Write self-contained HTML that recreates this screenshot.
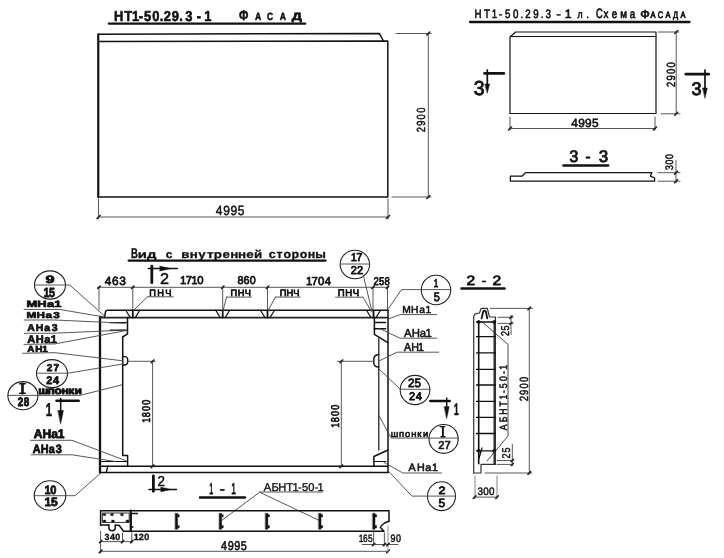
<!DOCTYPE html>
<html><head><meta charset="utf-8">
<style>
html,body{margin:0;padding:0;background:#fff;}
svg{display:block;filter:grayscale(1);}
text{font-family:"Liberation Sans", sans-serif;text-rendering:geometricPrecision;}
</style></head>
<body>
<svg width="724" height="558" viewBox="0 0 724 558">
<rect width="724" height="558" fill="#fff"/>
<g stroke-linecap="round" stroke-linejoin="round">
<g font-size="14.35" font-weight="bold" fill="#111" stroke="#111" stroke-width="0.6"><text transform="translate(114.06,21.0) scale(0.900,1)">Н</text><text transform="translate(124.17,21.0) scale(0.900,1)">Т</text><text transform="translate(131.89,21.0) scale(0.900,1)">1</text><text transform="translate(138.84,21.0) scale(0.900,1)">-</text><text transform="translate(144.04,21.0) scale(0.900,1)">5</text><text transform="translate(152.15,21.0) scale(0.900,1)">0</text><text transform="translate(159.68,21.0) scale(0.900,1)">.</text><text transform="translate(163.72,21.0) scale(0.900,1)">2</text><text transform="translate(171.70,21.0) scale(0.900,1)">9</text><text transform="translate(179.29,21.0) scale(0.900,1)">.</text></g>
<g font-size="14.35" font-weight="bold" fill="#111" stroke="#111" stroke-width="0.6"><text transform="translate(185.18,21.0) scale(0.900,1)">3</text><text transform="translate(196.80,21.0) scale(0.900,1)">-</text><text transform="translate(204.22,21.0) scale(0.900,1)">1</text></g>
<g font-size="14.06" font-weight="bold" fill="#111" stroke="#111" stroke-width="0.6"><text transform="translate(239.02,19.5) scale(0.779,1)">Ф</text></g>
<g font-size="10.43" font-weight="bold" fill="#111" stroke="#111" stroke-width="0.6"><text transform="translate(255.08,19.5) scale(0.830,1)">А</text></g>
<g font-size="10.43" font-weight="bold" fill="#111" stroke="#111" stroke-width="0.6"><text transform="translate(267.06,19.5) scale(0.805,1)">С</text></g>
<g font-size="10.43" font-weight="bold" fill="#111" stroke="#111" stroke-width="0.6"><text transform="translate(279.78,19.5) scale(0.830,1)">А</text></g>
<g font-size="10.43" font-weight="bold" fill="#111" stroke="#111" stroke-width="0.6"><text transform="translate(291.86,19.5) scale(1.357,1)">Д</text></g>
<path d="M108.8,23.6 L305.3,23.6" stroke="#111" stroke-width="2.2" fill="none" />
<path d="M98.3,197 L98.3,34.2 L379.4,33.6 L383.5,41" stroke="#111" stroke-width="1.5" fill="none" />
<path d="M98.3,41.6 L387.8,41 L387.8,197 L98.3,197" stroke="#111" stroke-width="1.5" fill="none" />
<path d="M98.3,34.2 L98.3,197" stroke="#111" stroke-width="2.0" fill="none" />
<path d="M396,33.5 L431,33.5" stroke="#444" stroke-width="0.9" fill="none" />
<path d="M392,197 L431,197" stroke="#444" stroke-width="0.9" fill="none" />
<path d="M428.3,33.5 L428.3,197" stroke="#444" stroke-width="0.9" fill="none" />
<path d="M426.8,35.0 L429.8,32.0" stroke="#222" stroke-width="1.6" fill="none" />
<path d="M426.8,198.5 L429.8,195.5" stroke="#222" stroke-width="1.6" fill="none" />
<g transform="translate(425.25,131.8) rotate(-90)" font-size="11.74" font-weight="normal" fill="#111" stroke="#111" stroke-width="0.5"><text transform="translate(-0.47,0) scale(0.800,1)">2</text><text transform="translate(5.93,0) scale(0.800,1)">9</text><text transform="translate(12.42,0) scale(0.800,1)">0</text><text transform="translate(18.96,0) scale(0.800,1)">0</text></g>
<path d="M98.5,199 L98.5,219" stroke="#444" stroke-width="0.9" fill="none" />
<path d="M388,199 L388,219" stroke="#444" stroke-width="0.9" fill="none" />
<path d="M98.5,217 L388,217" stroke="#444" stroke-width="0.9" fill="none" />
<path d="M97.0,218.5 L100.0,215.5" stroke="#222" stroke-width="1.6" fill="none" />
<path d="M386.5,218.5 L389.5,215.5" stroke="#222" stroke-width="1.6" fill="none" />
<g font-size="13.33" font-weight="normal" fill="#111" stroke="#111" stroke-width="0.5"><text transform="translate(215.70,215) scale(0.900,1)">4</text><text transform="translate(223.17,215) scale(0.900,1)">9</text><text transform="translate(230.47,215) scale(0.900,1)">9</text><text transform="translate(237.82,215) scale(0.900,1)">5</text></g>
<g font-size="12.17" font-weight="normal" fill="#111" stroke="#111" stroke-width="0.65"><text transform="translate(474.52,18.0) scale(0.800,1)">Н</text><text transform="translate(483.94,18.0) scale(0.800,1)">Т</text><text transform="translate(491.75,18.0) scale(0.800,1)">1</text><text transform="translate(499.03,18.0) scale(0.800,1)">-</text><text transform="translate(504.89,18.0) scale(0.800,1)">5</text><text transform="translate(512.95,18.0) scale(0.800,1)">0</text><text transform="translate(520.52,18.0) scale(0.800,1)">.</text><text transform="translate(525.26,18.0) scale(0.800,1)">2</text><text transform="translate(533.17,18.0) scale(0.800,1)">9</text><text transform="translate(540.69,18.0) scale(0.800,1)">.</text><text transform="translate(545.53,18.0) scale(0.800,1)">3</text></g>
<g font-size="12.17" font-weight="normal" fill="#111" stroke="#111" stroke-width="0.3"><text transform="translate(555.90,18.0) scale(1.274,1)">-</text></g>
<g font-size="12.17" font-weight="normal" fill="#111" stroke="#111" stroke-width="0.65"><text transform="translate(564.78,18.0) scale(1.012,1)">1</text></g>
<g font-size="10.94" font-weight="normal" fill="#111" stroke="#111" stroke-width="0.6"><text transform="translate(577.46,18.0) scale(0.800,1)">л</text><text transform="translate(586.38,18.0) scale(0.800,1)">.</text></g>
<g font-size="13.48" font-weight="normal" fill="#111" stroke="#111" stroke-width="0.7"><text transform="translate(596.03,17.8) scale(0.695,1)">С</text></g>
<g font-size="12.26" font-weight="normal" fill="#111" stroke="#111" stroke-width="0.7"><text transform="translate(603.45,17.8) scale(0.800,1)">х</text><text transform="translate(611.81,17.8) scale(0.800,1)">е</text><text transform="translate(620.17,17.8) scale(0.800,1)">м</text><text transform="translate(629.85,17.8) scale(0.800,1)">а</text></g>
<g font-size="11.45" font-weight="normal" fill="#111" stroke="#111" stroke-width="0.7"><text transform="translate(640.25,17.8) scale(1.092,1)">Ф</text></g>
<g font-size="9.42" font-weight="normal" fill="#111" stroke="#111" stroke-width="0.7"><text transform="translate(650.46,17.8) scale(0.800,1)">А</text><text transform="translate(657.70,17.8) scale(0.800,1)">С</text><text transform="translate(665.38,17.8) scale(0.800,1)">А</text><text transform="translate(672.95,17.8) scale(0.800,1)">Д</text><text transform="translate(680.49,17.8) scale(0.800,1)">А</text></g>
<path d="M470,22 L689.5,22" stroke="#111" stroke-width="2.3" fill="none" />
<path d="M510,113.5 L510,36.5 L656,36.5" stroke="#111" stroke-width="1.2" fill="none" />
<path d="M510.5,36.5 L515.6,32 L656,32 L656,113.5 L510,113.5" stroke="#111" stroke-width="1.2" fill="none" />
<path d="M658.5,32 L679,32" stroke="#444" stroke-width="0.9" fill="none" />
<path d="M661,113.8 L680,113.8" stroke="#444" stroke-width="0.9" fill="none" />
<path d="M676.2,32 L676.2,113.8" stroke="#444" stroke-width="0.9" fill="none" />
<path d="M674.7,33.5 L677.7,30.5" stroke="#222" stroke-width="1.6" fill="none" />
<path d="M674.7,115.3 L677.7,112.3" stroke="#222" stroke-width="1.6" fill="none" />
<g transform="translate(674.90,86.4) rotate(-90)" font-size="11.88" font-weight="normal" fill="#111" stroke="#111" stroke-width="0.55"><text transform="translate(-0.48,0) scale(0.800,1)">2</text><text transform="translate(5.87,0) scale(0.800,1)">9</text><text transform="translate(12.31,0) scale(0.800,1)">0</text><text transform="translate(18.80,0) scale(0.800,1)">0</text></g>
<path d="M510,117 L510,130" stroke="#444" stroke-width="0.9" fill="none" />
<path d="M655,117 L655,130" stroke="#444" stroke-width="0.9" fill="none" />
<path d="M510,128.5 L655,128.5" stroke="#444" stroke-width="0.9" fill="none" />
<path d="M508.5,130.0 L511.5,127.0" stroke="#222" stroke-width="1.6" fill="none" />
<path d="M653.5,130.0 L656.5,127.0" stroke="#222" stroke-width="1.6" fill="none" />
<g font-size="11.88" font-weight="normal" fill="#111" stroke="#111" stroke-width="0.6"><text transform="translate(571.30,126.5) scale(1.000,1)">4</text><text transform="translate(578.26,126.5) scale(1.000,1)">9</text><text transform="translate(585.04,126.5) scale(1.000,1)">9</text><text transform="translate(591.88,126.5) scale(1.000,1)">5</text></g>
<path d="M484.6,73.3 L503.8,73.3" stroke="#111" stroke-width="2.8" fill="none" />
<path d="M487.3,70 L487.3,86" stroke="#111" stroke-width="1.7" fill="none" />
<path d="M485,84 L489.6,84 L487.3,93 Z" stroke="#111" stroke-width="0.5" fill="#111"/>
<g font-size="20.29" font-weight="normal" fill="#111" stroke="#111" stroke-width="0.9"><text transform="translate(473.83,95) scale(0.954,1)">3</text></g>
<path d="M685.9,74.2 L708.7,74.2" stroke="#111" stroke-width="2.8" fill="none" />
<path d="M705,70 L705,90" stroke="#111" stroke-width="1.7" fill="none" />
<path d="M702.7,88 L707.3,88 L705,98 Z" stroke="#111" stroke-width="0.5" fill="#111"/>
<g font-size="18.41" font-weight="normal" fill="#111" stroke="#111" stroke-width="0.9"><text transform="translate(691.58,94.6) scale(0.983,1)">3</text></g>
<g font-size="16.67" font-weight="normal" fill="#111" stroke="#111" stroke-width="0.8"><text transform="translate(569.14,162) scale(0.983,1)">3</text></g>
<g font-size="16.67" font-weight="normal" fill="#111" stroke="#111" stroke-width="0.6"><text transform="translate(585.27,162) scale(0.980,1)">-</text></g>
<g font-size="16.67" font-weight="normal" fill="#111" stroke="#111" stroke-width="0.8"><text transform="translate(598.82,162) scale(1.021,1)">3</text></g>
<path d="M563.3,165.5 L608.3,165.5" stroke="#111" stroke-width="2.3" fill="none" />
<path d="M510.4,181 L510.4,176.2 L522,176.2 L525.5,172.6 L651.8,172.7 L650.4,176.2 L654.6,178 L654.6,181.2 L510.4,181" stroke="#111" stroke-width="1.3" fill="none" />
<path d="M658,172.7 L680,172.7" stroke="#444" stroke-width="0.9" fill="none" />
<path d="M658,181.2 L680,181.2" stroke="#444" stroke-width="0.9" fill="none" />
<path d="M676,160.7 L676,183" stroke="#444" stroke-width="0.9" fill="none" />
<path d="M674.5,174.2 L677.5,171.2" stroke="#222" stroke-width="1.6" fill="none" />
<path d="M674.5,182.7 L677.5,179.7" stroke="#222" stroke-width="1.6" fill="none" />
<g transform="translate(672.75,169.7) rotate(-90)" font-size="10.87" font-weight="normal" fill="#111" stroke="#111" stroke-width="0.5"><text transform="translate(-0.35,0) scale(0.800,1)">3</text><text transform="translate(5.17,0) scale(0.800,1)">0</text><text transform="translate(10.72,0) scale(0.800,1)">0</text></g>
<g font-size="14.06" font-weight="bold" fill="#111" stroke="#111" stroke-width="0.4"><text transform="translate(130.88,258.2) scale(0.676,1)">В</text></g>
<g font-size="10.94" font-weight="bold" fill="#111" stroke="#111" stroke-width="0.3"><text transform="translate(137.76,258.2) scale(1.355,1)">и</text><text transform="translate(147.08,258.2) scale(1.355,1)">д</text></g>
<g font-size="10.94" font-weight="bold" fill="#111" stroke="#111" stroke-width="0.3"><text transform="translate(165.82,258.2) scale(1.093,1)">с</text></g>
<g font-size="10.94" font-weight="bold" fill="#111" stroke="#111" stroke-width="0.3"><text transform="translate(181.27,258.2) scale(1.220,1)">в</text><text transform="translate(189.65,258.2) scale(1.220,1)">н</text><text transform="translate(198.30,258.2) scale(1.220,1)">у</text><text transform="translate(206.89,258.2) scale(1.220,1)">т</text><text transform="translate(213.80,258.2) scale(1.220,1)">р</text><text transform="translate(222.52,258.2) scale(1.220,1)">е</text><text transform="translate(230.17,258.2) scale(1.220,1)">н</text><text transform="translate(238.02,258.2) scale(1.220,1)">н</text><text transform="translate(246.27,258.2) scale(1.220,1)">е</text><text transform="translate(253.92,258.2) scale(1.220,1)">й</text></g>
<g font-size="11.51" font-weight="bold" fill="#111" stroke="#111" stroke-width="0.3"><text transform="translate(268.70,258.2) scale(1.079,1)">с</text><text transform="translate(276.58,258.2) scale(1.079,1)">т</text><text transform="translate(283.52,258.2) scale(1.079,1)">о</text><text transform="translate(291.51,258.2) scale(1.079,1)">р</text><text transform="translate(299.82,258.2) scale(1.079,1)">о</text><text transform="translate(307.75,258.2) scale(1.079,1)">н</text><text transform="translate(315.25,258.2) scale(1.079,1)">ы</text></g>
<path d="M128.6,260.6 L325.7,260.6" stroke="#111" stroke-width="2.2" fill="none" />
<path d="M100,316.9 L100,472.6" stroke="#111" stroke-width="2.3" fill="none" />
<path d="M104.5,317.6 L105.5,311.5 Q106,310.3 107.5,310.3 L388,310.3" stroke="#111" stroke-width="1.5" fill="none"/>
<path d="M100,317.7 L388,317.7" stroke="#222" stroke-width="1.8" fill="none" />
<path d="M388,310.3 L388,472.6" stroke="#111" stroke-width="1.5" fill="none" />
<path d="M100,466.3 L388,466.3" stroke="#111" stroke-width="1.5" fill="none" />
<path d="M100,472.6 L388,472.6" stroke="#111" stroke-width="1.5" fill="none" />
<path d="M127.5,317.6 L127.5,333.9 L122.7,337 L122.7,455.5 L127.6,455.5 L127.6,466.3" stroke="#111" stroke-width="1.5" fill="none" />
<path d="M110.2,322.6 L126.5,322.6" stroke="#111" stroke-width="1.3" fill="none" />
<path d="M110.2,330.1 L126.5,330.1" stroke="#111" stroke-width="1.3" fill="none" />
<path d="M122.7,356.4 Q127.7,356.4 127.7,359.5 L127.7,362 Q127.7,365.2 122.7,365.2" stroke="#111" stroke-width="1.4" fill="none"/>
<path d="M100,461.5 L127.6,461.5" stroke="#111" stroke-width="1.1" fill="none" />
<path d="M107.7,466.3 L106.2,472.6" stroke="#111" stroke-width="1.4" fill="none" />
<path d="M374.4,317.6 L374.4,334.4 L387.8,342.6" stroke="#111" stroke-width="1.5" fill="none" />
<path d="M378.8,338.5 L378.8,450" stroke="#111" stroke-width="1.2" fill="none" />
<path d="M374.4,322.5 L385.5,322.5" stroke="#111" stroke-width="1.6" fill="none" />
<path d="M374.4,328.8 L385.5,328.8" stroke="#111" stroke-width="1.6" fill="none" />
<path d="M378.8,354.5 Q373.8,355 373.8,359 L373.8,363 Q374,367 378.8,367" stroke="#111" stroke-width="1.4" fill="none"/>
<path d="M388,450 L373.9,456.5 L373.9,466.3" stroke="#111" stroke-width="1.5" fill="none" />
<path d="M373.9,461.5 L386,461.5" stroke="#111" stroke-width="1.1" fill="none" />
<path d="M125.80000000000001,310.3 L130.3,317.6" stroke="#111" stroke-width="1.2" fill="none" />
<path d="M139.8,310.3 L135.3,317.6" stroke="#111" stroke-width="1.2" fill="none" />
<path d="M132.8,310.3 L132.8,317.6" stroke="#111" stroke-width="1.8" fill="none" />
<path d="M215.7,310.3 L220.2,317.6" stroke="#111" stroke-width="1.2" fill="none" />
<path d="M229.7,310.3 L225.2,317.6" stroke="#111" stroke-width="1.2" fill="none" />
<path d="M222.7,310.3 L222.7,317.6" stroke="#111" stroke-width="1.8" fill="none" />
<path d="M260.5,310.3 L265.0,317.6" stroke="#111" stroke-width="1.2" fill="none" />
<path d="M274.5,310.3 L270.0,317.6" stroke="#111" stroke-width="1.2" fill="none" />
<path d="M267.5,310.3 L267.5,317.6" stroke="#111" stroke-width="1.8" fill="none" />
<path d="M366.5,310.3 L371.0,317.6" stroke="#111" stroke-width="1.2" fill="none" />
<path d="M380.5,310.3 L376.0,317.6" stroke="#111" stroke-width="1.2" fill="none" />
<path d="M373.5,310.3 L373.5,317.6" stroke="#111" stroke-width="1.8" fill="none" />
<path d="M97.5,287.3 L388.5,287.3" stroke="#444" stroke-width="0.9" fill="none" />
<path d="M99,287.3 L99,309.5" stroke="#444" stroke-width="0.9" fill="none" />
<path d="M97.8,288.5 L100.2,286.1" stroke="#222" stroke-width="1.6" fill="none" />
<path d="M132.8,287.3 L132.8,309.5" stroke="#444" stroke-width="0.9" fill="none" />
<path d="M131.60000000000002,288.5 L134.0,286.1" stroke="#222" stroke-width="1.6" fill="none" />
<path d="M222.7,287.3 L222.7,309.5" stroke="#444" stroke-width="0.9" fill="none" />
<path d="M221.5,288.5 L223.89999999999998,286.1" stroke="#222" stroke-width="1.6" fill="none" />
<path d="M267.5,287.3 L267.5,309.5" stroke="#444" stroke-width="0.9" fill="none" />
<path d="M266.3,288.5 L268.7,286.1" stroke="#222" stroke-width="1.6" fill="none" />
<path d="M373,287.3 L373,309.5" stroke="#444" stroke-width="0.9" fill="none" />
<path d="M371.8,288.5 L374.2,286.1" stroke="#222" stroke-width="1.6" fill="none" />
<path d="M387.5,287.3 L387.5,309.5" stroke="#444" stroke-width="0.9" fill="none" />
<path d="M386.3,288.5 L388.7,286.1" stroke="#222" stroke-width="1.6" fill="none" />
<g font-size="11.88" font-weight="normal" fill="#111" stroke="#111" stroke-width="0.75"><text transform="translate(104.70,284.6) scale(1.000,1)">4</text><text transform="translate(112.05,284.6) scale(1.000,1)">6</text><text transform="translate(119.34,284.6) scale(1.000,1)">3</text></g>
<g font-size="11.30" font-weight="normal" fill="#111" stroke="#111" stroke-width="0.75"><text transform="translate(179.92,284.4) scale(1.000,1)">1</text><text transform="translate(185.73,284.4) scale(1.000,1)">7</text><text transform="translate(191.26,284.4) scale(1.000,1)">1</text><text transform="translate(197.18,284.4) scale(1.000,1)">0</text></g>
<g font-size="11.30" font-weight="normal" fill="#111" stroke="#111" stroke-width="0.75"><text transform="translate(237.42,284.4) scale(0.953,1)">8</text><text transform="translate(243.56,284.4) scale(0.953,1)">6</text><text transform="translate(249.75,284.4) scale(0.953,1)">0</text></g>
<g font-size="11.59" font-weight="normal" fill="#111" stroke="#111" stroke-width="0.75"><text transform="translate(305.90,284.8) scale(0.983,1)">1</text><text transform="translate(311.51,284.8) scale(0.983,1)">7</text><text transform="translate(317.97,284.8) scale(0.983,1)">0</text><text transform="translate(324.72,284.8) scale(0.983,1)">4</text></g>
<g font-size="11.16" font-weight="normal" fill="#111" stroke="#111" stroke-width="0.75"><text transform="translate(373.43,284.7) scale(0.849,1)">2</text><text transform="translate(378.95,284.7) scale(0.849,1)">5</text><text transform="translate(384.52,284.7) scale(0.849,1)">8</text></g>
<g font-size="9.28" font-weight="normal" fill="#111" stroke="#111" stroke-width="0.75"><text transform="translate(149.26,295.6) scale(1.000,1)">П</text><text transform="translate(157.27,295.6) scale(1.000,1)">Н</text><text transform="translate(165.27,295.6) scale(1.000,1)">Ч</text></g>
<path d="M147.5,296.8 L173.2,296.8" stroke="#444" stroke-width="0.9" fill="none" />
<path d="M147.5,296.8 L134,310" stroke="#444" stroke-width="0.9" fill="none" />
<g font-size="9.28" font-weight="normal" fill="#111" stroke="#111" stroke-width="0.75"><text transform="translate(230.46,295.6) scale(1.000,1)">П</text><text transform="translate(237.67,295.6) scale(1.000,1)">Н</text><text transform="translate(244.87,295.6) scale(1.000,1)">Ч</text></g>
<path d="M226.5,297.1 L251.4,297.1" stroke="#444" stroke-width="0.9" fill="none" />
<path d="M226.5,297.1 L223,311" stroke="#444" stroke-width="0.9" fill="none" />
<g font-size="9.28" font-weight="normal" fill="#111" stroke="#111" stroke-width="0.75"><text transform="translate(279.66,295.6) scale(1.000,1)">П</text><text transform="translate(286.42,295.6) scale(1.000,1)">Н</text><text transform="translate(293.17,295.6) scale(1.000,1)">Ч</text></g>
<path d="M275.4,297.1 L300.3,297.1" stroke="#444" stroke-width="0.9" fill="none" />
<path d="M275.4,297.1 L267.8,311" stroke="#444" stroke-width="0.9" fill="none" />
<g font-size="9.57" font-weight="normal" fill="#111" stroke="#111" stroke-width="0.75"><text transform="translate(337.73,296.2) scale(1.000,1)">П</text><text transform="translate(345.22,296.2) scale(1.000,1)">Н</text><text transform="translate(352.70,296.2) scale(1.000,1)">Ч</text></g>
<path d="M335.6,297.2 L363,297.2" stroke="#444" stroke-width="0.9" fill="none" />
<path d="M363,297.2 L371.3,311.3" stroke="#444" stroke-width="0.9" fill="none" />
<path d="M151.8,266.1 L151.8,282.7" stroke="#111" stroke-width="2.8" fill="none" />
<path d="M148.3,268.6 L177.3,268.6" stroke="#111" stroke-width="1.5" fill="none" />
<path d="M160,266.2 L171,268.6 L160,271 Z" stroke="#111" stroke-width="0.5" fill="#111"/>
<g font-size="15.65" font-weight="normal" fill="#111" stroke="#111" stroke-width="0.5"><text transform="translate(159.99,283.6) scale(1.039,1)">2</text></g>
<ellipse cx="50" cy="285" rx="15.5" ry="14.1" stroke="#222" stroke-width="1.1" fill="none"/>
<g font-size="10.72" font-weight="bold" fill="#111" stroke="#111" stroke-width="0.75"><text transform="translate(45.53,282.8) scale(1.519,1)">9</text></g>
<g font-size="13.19" font-weight="bold" fill="#111" stroke="#111" stroke-width="0.75"><text transform="translate(43.40,296.9) scale(0.813,1)">1</text><text transform="translate(49.11,296.9) scale(0.813,1)">5</text></g>
<path d="M34.5,285 L69.7,285 L104,315.5" stroke="#444" stroke-width="0.9" fill="none" />
<ellipse cx="354.9" cy="264.5" rx="14.7" ry="14.2" stroke="#222" stroke-width="1.1" fill="none"/>
<g font-size="11.30" font-weight="normal" fill="#111" stroke="#111" stroke-width="0.8"><text transform="translate(350.75,261.4) scale(0.981,1)">1</text><text transform="translate(356.20,261.4) scale(0.981,1)">7</text></g>
<g font-size="11.30" font-weight="normal" fill="#111" stroke="#111" stroke-width="0.8"><text transform="translate(350.85,274.4) scale(0.979,1)">2</text><text transform="translate(357.01,274.4) scale(0.979,1)">2</text></g>
<path d="M340.2,264 L369.5,264" stroke="#444" stroke-width="0.9" fill="none" />
<path d="M363.8,277.5 L372,311.3" stroke="#444" stroke-width="0.9" fill="none" />
<ellipse cx="436" cy="290" rx="14.7" ry="14.7" stroke="#222" stroke-width="1.1" fill="none"/>
<g font-size="11.30" font-weight="normal" fill="#111" stroke="#111" stroke-width="0.8"><text transform="translate(433.69,287.3) scale(0.720,1)">1</text></g>
<g font-size="12.46" font-weight="normal" fill="#111" stroke="#111" stroke-width="0.8"><text transform="translate(433.86,301.1) scale(0.878,1)">5</text></g>
<path d="M450.7,289.6 L401.5,289.6 L387.4,310" stroke="#444" stroke-width="0.9" fill="none" />
<g font-size="8.99" font-weight="bold" fill="#111" stroke="#111" stroke-width="0.7"><text transform="translate(26.46,307.3) scale(1.434,1)">М</text><text transform="translate(37.28,307.3) scale(1.434,1)">Н</text><text transform="translate(47.12,307.3) scale(1.434,1)">а</text><text transform="translate(54.33,307.3) scale(1.434,1)">1</text></g>
<path d="M24.1,309.4 L60,309.5 L104,317" stroke="#444" stroke-width="0.9" fill="none" />
<g font-size="8.55" font-weight="bold" fill="#111" stroke="#111" stroke-width="0.7"><text transform="translate(26.54,317.7) scale(1.362,1)">М</text><text transform="translate(36.41,317.7) scale(1.362,1)">Н</text><text transform="translate(45.40,317.7) scale(1.362,1)">а</text><text transform="translate(53.34,317.7) scale(1.362,1)">3</text></g>
<path d="M24.1,320 L55,320 L125.2,323.2" stroke="#444" stroke-width="0.9" fill="none" />
<g font-size="9.86" font-weight="bold" fill="#111" stroke="#111" stroke-width="0.7"><text transform="translate(27.24,331.1) scale(1.061,1)">А</text><text transform="translate(35.80,331.1) scale(1.061,1)">Н</text><text transform="translate(44.30,331.1) scale(1.061,1)">а</text><text transform="translate(51.86,331.1) scale(1.061,1)">3</text></g>
<path d="M24.3,333.3 L55,333.2 L125.2,330.1" stroke="#444" stroke-width="0.9" fill="none" />
<g font-size="11.01" font-weight="bold" fill="#111" stroke="#111" stroke-width="0.7"><text transform="translate(27.22,342.6) scale(1.000,1)">А</text><text transform="translate(35.82,342.6) scale(1.000,1)">Н</text><text transform="translate(44.37,342.6) scale(1.000,1)">а</text><text transform="translate(50.65,342.6) scale(1.000,1)">1</text></g>
<path d="M24,344.4 L55,343.9 L125.2,330.7" stroke="#444" stroke-width="0.9" fill="none" />
<g font-size="8.84" font-weight="bold" fill="#111" stroke="#111" stroke-width="0.7"><text transform="translate(27.25,351.5) scale(1.121,1)">А</text><text transform="translate(35.27,351.5) scale(1.121,1)">Н</text><text transform="translate(42.14,351.5) scale(1.121,1)">1</text></g>
<path d="M22.5,353.3 L55,352.7 L122.7,360.8" stroke="#444" stroke-width="0.9" fill="none" />
<ellipse cx="52" cy="373.6" rx="15.5" ry="14" stroke="#222" stroke-width="1.1" fill="none"/>
<g font-size="10.00" font-weight="bold" fill="#111" stroke="#111" stroke-width="0.75"><text transform="translate(46.75,370.6) scale(1.000,1)">2</text><text transform="translate(53.40,370.6) scale(1.000,1)">7</text></g>
<g font-size="11.01" font-weight="bold" fill="#111" stroke="#111" stroke-width="0.75"><text transform="translate(46.32,384.3) scale(0.993,1)">2</text><text transform="translate(52.89,384.3) scale(0.993,1)">4</text></g>
<path d="M36.5,373.2 L68,373.2 L122.7,364" stroke="#444" stroke-width="0.9" fill="none" />
<ellipse cx="22.9" cy="395.7" rx="15" ry="14.1" stroke="#222" stroke-width="1.1" fill="none"/>
<g font-size="12.17" font-weight="bold" fill="#111" stroke="#111" stroke-width="0.9500000000000001"><text transform="translate(17.66,406.2) scale(0.807,1)">2</text><text transform="translate(23.64,406.2) scale(0.807,1)">8</text></g>
<path d="M19.8,383.8 L25.2,383.8" stroke="#111" stroke-width="1.6" fill="none" />
<path d="M19.8,393.2 L25.2,393.2" stroke="#111" stroke-width="1.6" fill="none" />
<path d="M22.5,383.8 L22.5,393.2" stroke="#111" stroke-width="2.6" fill="none" />
<path d="M7.8,395.4 L80,395.4 L122,384.8" stroke="#444" stroke-width="0.9" fill="none" />
<g font-size="10.19" font-weight="bold" fill="#111" stroke="#111" stroke-width="0.9"><text transform="translate(38.15,394.2) scale(1.189,1)">ш</text><text transform="translate(47.53,394.2) scale(1.189,1)">п</text><text transform="translate(54.54,394.2) scale(1.189,1)">о</text><text transform="translate(61.62,394.2) scale(1.189,1)">н</text><text transform="translate(68.27,394.2) scale(1.189,1)">к</text><text transform="translate(74.50,394.2) scale(1.189,1)">и</text></g>
<g font-size="18.41" font-weight="bold" fill="#111" stroke="#111" stroke-width="0.6"><text transform="translate(45.67,415.9) scale(0.608,1)">1</text></g>
<path d="M56.5,400.8 L78.7,400.8" stroke="#111" stroke-width="2.5" fill="none" />
<path d="M60.7,398.4 L60.7,412" stroke="#111" stroke-width="1.5" fill="none" />
<path d="M58,410.5 L63.4,410.5 L60.7,423.7 Z" stroke="#111" stroke-width="0.5" fill="#111"/>
<g font-size="12.46" font-weight="bold" fill="#111" stroke="#111" stroke-width="0.8"><text transform="translate(33.70,438.1) scale(0.970,1)">А</text><text transform="translate(42.56,438.1) scale(0.970,1)">Н</text><text transform="translate(51.36,438.1) scale(0.970,1)">а</text><text transform="translate(57.68,438.1) scale(0.970,1)">1</text></g>
<path d="M30.5,440.3 L72,440.3 L125.7,460.6" stroke="#444" stroke-width="0.9" fill="none" />
<g font-size="12.03" font-weight="bold" fill="#111" stroke="#111" stroke-width="0.8"><text transform="translate(32.73,453.3) scale(0.898,1)">А</text><text transform="translate(40.74,453.3) scale(0.898,1)">Н</text><text transform="translate(48.70,453.3) scale(0.898,1)">а</text><text transform="translate(55.68,453.3) scale(0.898,1)">3</text></g>
<path d="M31.2,454.8 L72,454.8 L116,461.6" stroke="#444" stroke-width="0.9" fill="none" />
<ellipse cx="50" cy="495.5" rx="15.8" ry="14.8" stroke="#222" stroke-width="1.1" fill="none"/>
<g font-size="12.03" font-weight="bold" fill="#111" stroke="#111" stroke-width="0.75"><text transform="translate(44.55,494.2) scale(0.922,1)">1</text><text transform="translate(50.19,494.2) scale(0.922,1)">0</text></g>
<g font-size="12.03" font-weight="bold" fill="#111" stroke="#111" stroke-width="0.75"><text transform="translate(44.42,506.1) scale(1.000,1)">1</text><text transform="translate(51.12,506.1) scale(1.000,1)">5</text></g>
<path d="M34.1,495.7 L75.1,495.7 L100.6,473.2" stroke="#444" stroke-width="0.9" fill="none" />
<path d="M127,361.3 L155,361.3" stroke="#444" stroke-width="0.9" fill="none" />
<path d="M152.6,361.3 L152.6,466.6" stroke="#444" stroke-width="0.9" fill="none" />
<path d="M151.25,362.65000000000003 L153.95,359.95" stroke="#222" stroke-width="1.6" fill="none" />
<path d="M151.25,467.65000000000003 L153.95,464.95" stroke="#222" stroke-width="1.6" fill="none" />
<g transform="translate(150.30,421.5) rotate(-90)" font-size="11.30" font-weight="normal" fill="#111" stroke="#111" stroke-width="0.7"><text transform="translate(-1.27,0) scale(0.800,1)">1</text><text transform="translate(4.29,0) scale(0.800,1)">8</text><text transform="translate(10.57,0) scale(0.800,1)">0</text><text transform="translate(16.84,0) scale(0.800,1)">0</text></g>
<path d="M337.5,361.3 L373.8,361.3" stroke="#444" stroke-width="0.9" fill="none" />
<path d="M341.3,361.3 L341.3,466.6" stroke="#444" stroke-width="0.9" fill="none" />
<path d="M339.95,362.65000000000003 L342.65000000000003,359.95" stroke="#222" stroke-width="1.6" fill="none" />
<path d="M339.95,467.65000000000003 L342.65000000000003,464.95" stroke="#222" stroke-width="1.6" fill="none" />
<g transform="translate(339.40,426.5) rotate(-90)" font-size="11.30" font-weight="normal" fill="#111" stroke="#111" stroke-width="0.7"><text transform="translate(-1.27,0) scale(0.800,1)">1</text><text transform="translate(4.29,0) scale(0.800,1)">8</text><text transform="translate(10.57,0) scale(0.800,1)">0</text><text transform="translate(16.84,0) scale(0.800,1)">0</text></g>
<g font-size="10.29" font-weight="normal" fill="#111" stroke="#111" stroke-width="0.55"><text transform="translate(402.18,312.6) scale(1.000,1)">М</text><text transform="translate(411.11,312.6) scale(1.000,1)">Н</text><text transform="translate(419.27,312.6) scale(1.000,1)">а</text><text transform="translate(425.57,312.6) scale(1.000,1)">1</text></g>
<path d="M436.7,314.6 L400,314.6 L387.5,319.4" stroke="#444" stroke-width="0.9" fill="none" />
<g font-size="11.59" font-weight="normal" fill="#111" stroke="#111" stroke-width="0.55"><text transform="translate(403.94,336.6) scale(0.982,1)">А</text><text transform="translate(411.77,336.6) scale(0.982,1)">Н</text><text transform="translate(419.70,336.6) scale(0.982,1)">а</text><text transform="translate(425.59,336.6) scale(0.982,1)">1</text></g>
<path d="M436.7,338.2 L400,338.2 L380,328.7" stroke="#444" stroke-width="0.9" fill="none" />
<g font-size="11.59" font-weight="normal" fill="#111" stroke="#111" stroke-width="0.55"><text transform="translate(403.95,351.2) scale(0.924,1)">А</text><text transform="translate(411.37,351.2) scale(0.924,1)">Н</text><text transform="translate(417.89,351.2) scale(0.924,1)">1</text></g>
<path d="M438.7,352.2 L397.2,352.2 L378.8,361" stroke="#444" stroke-width="0.9" fill="none" />
<ellipse cx="415" cy="390" rx="14.8" ry="14.6" stroke="#222" stroke-width="1.1" fill="none"/>
<g font-size="12.03" font-weight="normal" fill="#111" stroke="#111" stroke-width="0.8"><text transform="translate(407.91,386.9) scale(0.974,1)">2</text><text transform="translate(414.57,386.9) scale(0.974,1)">5</text></g>
<g font-size="11.16" font-weight="normal" fill="#111" stroke="#111" stroke-width="0.8"><text transform="translate(408.94,399.9) scale(1.000,1)">2</text><text transform="translate(415.74,399.9) scale(1.000,1)">4</text></g>
<path d="M430,389.3 L400.3,389.3 L378.3,368.3" stroke="#444" stroke-width="0.9" fill="none" />
<path d="M430.3,400.9 L449.6,400.9" stroke="#111" stroke-width="2.5" fill="none" />
<path d="M446.7,398 L446.7,408" stroke="#111" stroke-width="1.5" fill="none" />
<path d="M444.3,406.7 L449.2,406.7 L446.7,418.3 Z" stroke="#111" stroke-width="0.5" fill="#111"/>
<g font-size="16.81" font-weight="bold" fill="#111" stroke="#111" stroke-width="0.7"><text transform="translate(453.95,415.4) scale(0.499,1)">1</text></g>
<g font-size="9.43" font-weight="normal" fill="#111" stroke="#111" stroke-width="0.6"><text transform="translate(390.64,436.5) scale(1.000,1)">ш</text><text transform="translate(398.96,436.5) scale(1.000,1)">п</text><text transform="translate(405.07,436.5) scale(1.000,1)">о</text><text transform="translate(411.32,436.5) scale(1.000,1)">н</text><text transform="translate(417.34,436.5) scale(1.000,1)">к</text><text transform="translate(422.88,436.5) scale(1.000,1)">и</text></g>
<path d="M458,438.1 L391.3,438.1 L378.6,415" stroke="#444" stroke-width="0.9" fill="none" />
<ellipse cx="443.6" cy="438.9" rx="14.6" ry="14.45" stroke="#222" stroke-width="1.1" fill="none"/>
<g font-size="11.45" font-weight="normal" fill="#111" stroke="#111" stroke-width="0.65"><text transform="translate(438.24,449.2) scale(0.975,1)">2</text><text transform="translate(444.46,449.2) scale(0.975,1)">7</text></g>
<path d="M440,426.6 L444.8,426.6" stroke="#111" stroke-width="1.4" fill="none" />
<path d="M441,436.8 L445,436.8" stroke="#111" stroke-width="1.4" fill="none" />
<path d="M442.9,426.6 L442.9,435.5" stroke="#111" stroke-width="1.9" fill="none" />
<g font-size="10.72" font-weight="normal" fill="#111" stroke="#111" stroke-width="0.6"><text transform="translate(408.55,471.1) scale(1.000,1)">А</text><text transform="translate(416.90,471.1) scale(1.000,1)">Н</text><text transform="translate(425.35,471.1) scale(1.000,1)">а</text><text transform="translate(431.88,471.1) scale(1.000,1)">1</text></g>
<path d="M441.5,473 L402.8,473 L384,462.4" stroke="#444" stroke-width="0.9" fill="none" />
<ellipse cx="441.5" cy="496.2" rx="14" ry="14.4" stroke="#222" stroke-width="1.1" fill="none"/>
<g font-size="10.72" font-weight="normal" fill="#111" stroke="#111" stroke-width="0.8"><text transform="translate(438.47,494.1) scale(1.168,1)">2</text></g>
<g font-size="11.88" font-weight="normal" fill="#111" stroke="#111" stroke-width="0.8"><text transform="translate(438.62,506.5) scale(1.010,1)">5</text></g>
<path d="M455.5,496.1 L411.9,496.1 L388.3,471" stroke="#444" stroke-width="0.9" fill="none" />
<path d="M153.4,476 L153.4,491.3" stroke="#111" stroke-width="2.8" fill="none" />
<path d="M149,489.5 L176.5,489.5" stroke="#111" stroke-width="1.5" fill="none" />
<path d="M161,487.3 L171,489.5 L161,491.7 Z" stroke="#111" stroke-width="0.5" fill="#111"/>
<g font-size="14.49" font-weight="normal" fill="#111" stroke="#111" stroke-width="0.5"><text transform="translate(157.53,486) scale(0.925,1)">2</text></g>
<g font-size="15.80" font-weight="normal" fill="#111" stroke="#111" stroke-width="0.8"><text transform="translate(209.36,494.3) scale(0.456,1)">1</text></g>
<g font-size="15.80" font-weight="normal" fill="#111" stroke="#111" stroke-width="0.6"><text transform="translate(219.80,494.3) scale(0.982,1)">-</text></g>
<g font-size="15.80" font-weight="normal" fill="#111" stroke="#111" stroke-width="0.8"><text transform="translate(231.37,494.3) scale(0.530,1)">1</text></g>
<path d="M200,497.4 L244.9,497.4" stroke="#111" stroke-width="2.5" fill="none" />
<g font-size="11.30" font-weight="normal" fill="#111" stroke="#111" stroke-width="0.35"><text transform="translate(263.74,491) scale(0.985,1)">А</text><text transform="translate(271.39,491) scale(0.985,1)">Б</text><text transform="translate(278.36,491) scale(0.985,1)">Н</text><text transform="translate(286.34,491) scale(0.985,1)">Т</text><text transform="translate(292.48,491) scale(0.985,1)">1</text><text transform="translate(298.01,491) scale(0.985,1)">-</text><text transform="translate(301.92,491) scale(0.985,1)">5</text><text transform="translate(308.34,491) scale(0.985,1)">0</text><text transform="translate(314.70,491) scale(0.985,1)">-</text><text transform="translate(317.50,491) scale(0.985,1)">1</text></g>
<path d="M322.4,492 L259.7,492" stroke="#444" stroke-width="0.9" fill="none" />
<path d="M222,520.2 L259.7,492.2 L318.9,520.3" stroke="#444" stroke-width="0.9" fill="none" />
<path d="M389,521.2 L389,510.7 L100.6,510.7 L100.6,525" stroke="#111" stroke-width="1.5" fill="none" />
<path d="M100.6,525 L108.9,525" stroke="#111" stroke-width="1.4" fill="none" />
<path d="M108.9,525 L108.9,528.5 Q109.5,530.7 112,530.7 Q115.2,530.7 115.2,528 L115.2,525 L119.3,525.5 L123.5,531.2 L384,531.2 Q382,529 380.4,527.5 Q381,525.5 384.5,523 L389,521.2" stroke="#111" stroke-width="1.5" fill="none"/>
<path d="M102.7,513 L129.2,513 L129.2,522.4 L102.7,522.4 Z" stroke="#333" stroke-width="1.0" fill="none"/>
<path d="M103.2,513.5 L105.8,513.5 L105.8,515.7 L103.2,515.7 Z" stroke="#111" stroke-width="0.3" fill="#111"/>
<path d="M110.7,513.5 L113.3,513.5 L113.3,515.7 L110.7,515.7 Z" stroke="#111" stroke-width="0.3" fill="#111"/>
<path d="M120.7,513.5 L123.3,513.5 L123.3,515.7 L120.7,515.7 Z" stroke="#111" stroke-width="0.3" fill="#111"/>
<path d="M103.2,520 L105.8,520 L105.8,522.2 L103.2,522.2 Z" stroke="#111" stroke-width="0.3" fill="#111"/>
<path d="M111.7,520 L114.3,520 L114.3,522.2 L111.7,522.2 Z" stroke="#111" stroke-width="0.3" fill="#111"/>
<path d="M126.2,520 L128.8,520 L128.8,522.2 L126.2,522.2 Z" stroke="#111" stroke-width="0.3" fill="#111"/>
<path d="M130.8,510.7 L130.8,531.2" stroke="#111" stroke-width="2.3" fill="none" />
<path d="M130.8,513.5 L137.5,513.5" stroke="#111" stroke-width="1.3" fill="none" />
<path d="M130.8,527 L133,527" stroke="#111" stroke-width="1.3" fill="none" />
<path d="M175.2,513.3 L177.7,513.3 L177.7,529.3 L175.2,529.3 Z" stroke="#111" stroke-width="0.3" fill="#111"/>
<path d="M177.5,514.5 L179.3,514.5 L179.3,517 L177.5,517 Z" stroke="#111" stroke-width="0.3" fill="#111"/>
<path d="M177.5,525.5 L179.3,525.5 L179.3,528 L177.5,528 Z" stroke="#111" stroke-width="0.3" fill="#111"/>
<path d="M219.2,513.3 L221.7,513.3 L221.7,529.3 L219.2,529.3 Z" stroke="#111" stroke-width="0.3" fill="#111"/>
<path d="M221.5,514.5 L223.3,514.5 L223.3,517 L221.5,517 Z" stroke="#111" stroke-width="0.3" fill="#111"/>
<path d="M221.5,525.5 L223.3,525.5 L223.3,528 L221.5,528 Z" stroke="#111" stroke-width="0.3" fill="#111"/>
<path d="M265.4,513.3 L267.9,513.3 L267.9,529.3 L265.4,529.3 Z" stroke="#111" stroke-width="0.3" fill="#111"/>
<path d="M267.7,514.5 L269.5,514.5 L269.5,517 L267.7,517 Z" stroke="#111" stroke-width="0.3" fill="#111"/>
<path d="M267.7,525.5 L269.5,525.5 L269.5,528 L267.7,528 Z" stroke="#111" stroke-width="0.3" fill="#111"/>
<path d="M318.59999999999997,513.3 L321.09999999999997,513.3 L321.09999999999997,529.3 L318.59999999999997,529.3 Z" stroke="#111" stroke-width="0.3" fill="#111"/>
<path d="M320.9,514.5 L322.7,514.5 L322.7,517 L320.9,517 Z" stroke="#111" stroke-width="0.3" fill="#111"/>
<path d="M320.9,525.5 L322.7,525.5 L322.7,528 L320.9,528 Z" stroke="#111" stroke-width="0.3" fill="#111"/>
<path d="M372.59999999999997,513.3 L375.09999999999997,513.3 L375.09999999999997,529.3 L372.59999999999997,529.3 Z" stroke="#111" stroke-width="0.3" fill="#111"/>
<path d="M374.9,514.5 L376.7,514.5 L376.7,517 L374.9,517 Z" stroke="#111" stroke-width="0.3" fill="#111"/>
<path d="M374.9,525.5 L376.7,525.5 L376.7,528 L374.9,528 Z" stroke="#111" stroke-width="0.3" fill="#111"/>
<g font-size="8.99" font-weight="bold" fill="#111" stroke="#111" stroke-width="0.35"><text transform="translate(104.58,539.5) scale(0.984,1)">3</text><text transform="translate(109.94,539.5) scale(0.984,1)">4</text><text transform="translate(115.35,539.5) scale(0.984,1)">0</text></g>
<g font-size="8.99" font-weight="bold" fill="#111" stroke="#111" stroke-width="0.35"><text transform="translate(133.74,539.5) scale(1.000,1)">1</text><text transform="translate(138.74,539.5) scale(1.000,1)">2</text><text transform="translate(144.37,539.5) scale(1.000,1)">0</text></g>
<path d="M100,541.6 L132.3,541.6" stroke="#444" stroke-width="0.9" fill="none" />
<path d="M100.6,531.2 L100.6,553" stroke="#444" stroke-width="0.9" fill="none" />
<path d="M122.5,533 L122.5,543" stroke="#444" stroke-width="0.9" fill="none" />
<path d="M131.8,533 L131.8,543" stroke="#444" stroke-width="0.9" fill="none" />
<path d="M99.39999999999999,542.8000000000001 L101.8,540.4" stroke="#222" stroke-width="1.6" fill="none" />
<path d="M121.3,542.8000000000001 L123.7,540.4" stroke="#222" stroke-width="1.6" fill="none" />
<path d="M130.60000000000002,542.8000000000001 L133.0,540.4" stroke="#222" stroke-width="1.6" fill="none" />
<g font-size="12.75" font-weight="normal" fill="#111" stroke="#111" stroke-width="0.6"><text transform="translate(221.03,549.8) scale(0.850,1)">4</text><text transform="translate(227.72,549.8) scale(0.850,1)">9</text><text transform="translate(234.24,549.8) scale(0.850,1)">9</text><text transform="translate(240.82,549.8) scale(0.850,1)">5</text></g>
<path d="M100.6,551.3 L388,551.3" stroke="#444" stroke-width="0.9" fill="none" />
<path d="M99.25,552.65 L101.94999999999999,549.9499999999999" stroke="#222" stroke-width="1.6" fill="none" />
<path d="M386.65,552.65 L389.35,549.9499999999999" stroke="#222" stroke-width="1.6" fill="none" />
<g font-size="10.72" font-weight="normal" fill="#111" stroke="#111" stroke-width="0.45"><text transform="translate(358.73,542.4) scale(0.782,1)">1</text><text transform="translate(363.07,542.4) scale(0.782,1)">6</text><text transform="translate(368.08,542.4) scale(0.782,1)">5</text></g>
<g font-size="10.72" font-weight="normal" fill="#111" stroke="#111" stroke-width="0.45"><text transform="translate(390.60,542.4) scale(0.836,1)">9</text><text transform="translate(395.88,542.4) scale(0.836,1)">0</text></g>
<path d="M362.4,544.5 L398,544.5" stroke="#444" stroke-width="0.9" fill="none" />
<path d="M373.6,531 L373.6,545.5" stroke="#444" stroke-width="0.9" fill="none" />
<path d="M384.4,533 L384.4,545.5" stroke="#444" stroke-width="0.9" fill="none" />
<path d="M388,526 L388,553" stroke="#888" stroke-width="0.9" fill="none" />
<path d="M372.40000000000003,545.7 L374.8,543.3" stroke="#222" stroke-width="1.6" fill="none" />
<path d="M383.2,545.7 L385.59999999999997,543.3" stroke="#222" stroke-width="1.6" fill="none" />
<path d="M386.8,545.7 L389.2,543.3" stroke="#222" stroke-width="1.6" fill="none" />
<g font-size="13.33" font-weight="normal" fill="#111" stroke="#111" stroke-width="0.8"><text transform="translate(466.52,285.2) scale(1.170,1)">2</text></g>
<g font-size="13.33" font-weight="normal" fill="#111" stroke="#111" stroke-width="0.3"><text transform="translate(481.27,285.2) scale(1.224,1)">-</text></g>
<g font-size="13.33" font-weight="normal" fill="#111" stroke="#111" stroke-width="0.8"><text transform="translate(492.62,285.2) scale(1.170,1)">2</text></g>
<path d="M461.5,288.5 L504.6,288.5" stroke="#111" stroke-width="2.5" fill="none" />
<path d="M473.7,473 L473.7,316.6 Q474.5,314 475.9,313.7 L479.5,313 L480.9,308.7 Q481.2,308.4 482,308.4 L487.3,308.4 L489.5,317 L495.4,317 L495.4,464.4" stroke="#333" stroke-width="1.2" fill="none"/>
<path d="M473.7,473 L481,473 L481,464.4 L495.4,464.4" stroke="#333" stroke-width="1.2" fill="none"/>
<path d="M481.6,318.4 L483.2,311.5 Q484.5,309.8 485.8,311.5 L487.3,318.4" stroke="#111" stroke-width="1.8" fill="none"/>
<path d="M478.7,321 L478.7,463.7" stroke="#111" stroke-width="1.6" fill="none" />
<path d="M494.2,321 L494.2,463.7" stroke="#111" stroke-width="1.3" fill="none" />
<path d="M476.5,322 L495.5,322" stroke="#111" stroke-width="1.3" fill="none" />
<path d="M476.5,336.6 L495.5,336.6" stroke="#111" stroke-width="1.3" fill="none" />
<path d="M476.5,352.8 L495.5,352.8" stroke="#111" stroke-width="1.3" fill="none" />
<path d="M476.5,369.3 L495.5,369.3" stroke="#111" stroke-width="1.3" fill="none" />
<path d="M476.5,385 L495.5,385" stroke="#111" stroke-width="1.3" fill="none" />
<path d="M476.5,401.3 L495.5,401.3" stroke="#111" stroke-width="1.3" fill="none" />
<path d="M476.5,417.3 L495.5,417.3" stroke="#111" stroke-width="1.3" fill="none" />
<path d="M476.5,433.5 L495.5,433.5" stroke="#111" stroke-width="1.3" fill="none" />
<path d="M476.5,450.8 L495.5,450.8" stroke="#111" stroke-width="1.3" fill="none" />
<ellipse cx="478.7" cy="322" rx="1.4" ry="1.4" stroke="#111" stroke-width="1.0" fill="none"/>
<ellipse cx="494.2" cy="322" rx="1.4" ry="1.4" stroke="#111" stroke-width="1.0" fill="none"/>
<ellipse cx="478.7" cy="450.8" rx="1.4" ry="1.4" stroke="#111" stroke-width="1.0" fill="none"/>
<ellipse cx="494.2" cy="450.8" rx="1.4" ry="1.4" stroke="#111" stroke-width="1.0" fill="none"/>
<path d="M482.3,322 L508,344.4 L508,436 L487.2,460.8" stroke="#333" stroke-width="0.9" fill="none" />
<path d="M479,458 L482,448" stroke="#111" stroke-width="1.3" fill="none" />
<path d="M490.2,308.4 L532.4,308.4" stroke="#444" stroke-width="0.9" fill="none" />
<path d="M529.3,308.4 L529.3,473" stroke="#444" stroke-width="0.9" fill="none" />
<path d="M485,473 L531.7,473" stroke="#444" stroke-width="0.9" fill="none" />
<path d="M527.9499999999999,309.75 L530.65,307.04999999999995" stroke="#222" stroke-width="1.6" fill="none" />
<path d="M527.9499999999999,474.35 L530.65,471.65" stroke="#222" stroke-width="1.6" fill="none" />
<g transform="translate(527.90,400.8) rotate(-90)" font-size="11.88" font-weight="normal" fill="#111" stroke="#111" stroke-width="0.5"><text transform="translate(-0.48,0) scale(0.800,1)">2</text><text transform="translate(5.84,0) scale(0.800,1)">9</text><text transform="translate(12.25,0) scale(0.800,1)">0</text><text transform="translate(18.70,0) scale(0.800,1)">0</text></g>
<path d="M498,317.3 L513.1,317.3" stroke="#444" stroke-width="0.9" fill="none" />
<path d="M498,323.4 L513,323.4" stroke="#444" stroke-width="0.9" fill="none" />
<path d="M511,315.5 L511,334.5" stroke="#444" stroke-width="0.9" fill="none" />
<path d="M509.875,318.425 L512.125,316.175" stroke="#222" stroke-width="1.6" fill="none" />
<path d="M509.875,324.525 L512.125,322.275" stroke="#222" stroke-width="1.6" fill="none" />
<g transform="translate(508.80,335.6) rotate(-90)" font-size="11.30" font-weight="normal" fill="#111" stroke="#111" stroke-width="0.5"><text transform="translate(-0.45,0) scale(0.800,1)">2</text><text transform="translate(5.04,0) scale(0.800,1)">5</text></g>
<path d="M497,460.5 L513,460.5" stroke="#444" stroke-width="0.9" fill="none" />
<path d="M497,464.4 L513,464.4" stroke="#444" stroke-width="0.9" fill="none" />
<path d="M512.3,444.3 L512.3,465.8" stroke="#444" stroke-width="0.9" fill="none" />
<path d="M511.17499999999995,461.625 L513.425,459.375" stroke="#222" stroke-width="1.6" fill="none" />
<path d="M511.17499999999995,465.525 L513.425,463.275" stroke="#222" stroke-width="1.6" fill="none" />
<g transform="translate(509.80,458) rotate(-90)" font-size="11.30" font-weight="normal" fill="#111" stroke="#111" stroke-width="0.5"><text transform="translate(-0.45,0) scale(0.800,1)">2</text><text transform="translate(5.44,0) scale(0.800,1)">5</text></g>
<g transform="translate(507.25,430.2) rotate(-90)" font-size="10.87" font-weight="normal" fill="#111" stroke="#111" stroke-width="0.5"><text transform="translate(-0.04,0) scale(0.800,1)">А</text><text transform="translate(7.97,0) scale(0.800,1)">Б</text><text transform="translate(15.47,0) scale(0.800,1)">Н</text><text transform="translate(23.75,0) scale(0.800,1)">Т</text><text transform="translate(30.59,0) scale(0.800,1)">1</text><text transform="translate(36.96,0) scale(0.800,1)">-</text><text transform="translate(42.06,0) scale(0.800,1)">5</text><text transform="translate(49.12,0) scale(0.800,1)">0</text><text transform="translate(56.14,0) scale(0.800,1)">-</text><text transform="translate(60.37,0) scale(0.800,1)">1</text></g>
<g font-size="10.87" font-weight="normal" fill="#111" stroke="#111" stroke-width="0.45"><text transform="translate(477.60,494.5) scale(0.909,1)">3</text><text transform="translate(483.33,494.5) scale(0.909,1)">0</text><text transform="translate(489.11,494.5) scale(0.909,1)">0</text></g>
<path d="M474.3,497.1 L497.5,497.1" stroke="#444" stroke-width="0.9" fill="none" />
<path d="M475,476 L475,499" stroke="#777" stroke-width="0.9" fill="none" />
<path d="M497,476 L497,499" stroke="#777" stroke-width="0.9" fill="none" />
<path d="M473.25,498.45000000000005 L475.95000000000005,495.75" stroke="#222" stroke-width="1.6" fill="none" />
<path d="M495.65,498.45000000000005 L498.35,495.75" stroke="#222" stroke-width="1.6" fill="none" />
</g>
</svg>
</body></html>
